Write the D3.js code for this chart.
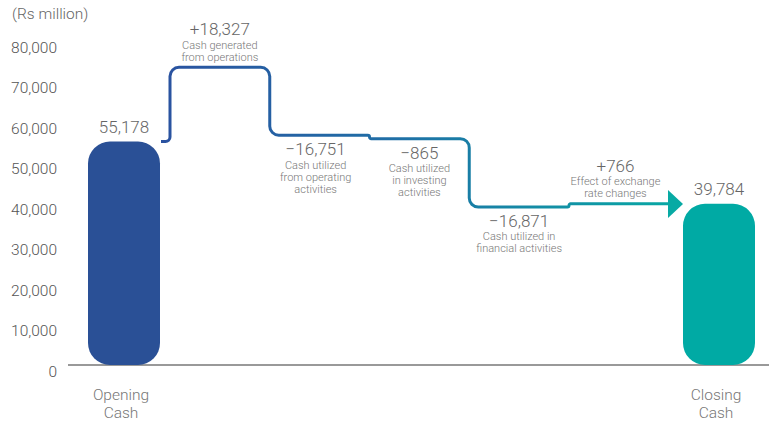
<!DOCTYPE html>
<html>
<head>
<meta charset="utf-8">
<script src="https://cdn.jsdelivr.net/npm/d3@7"></script>
<style>
  html, body { margin: 0; padding: 0; background: #fff; }
  svg { display: block; }
  text { font-family: Roboto, "Liberation Sans", Arial, sans-serif; font-weight: 300; }
</style>
</head>
<body>
<script>
// Cash flow bridge: opening cash, movements, closing cash (Rs million)
const totalLabels = ["Opening Cash", "Closing Cash"];
const totalValues = [55178, 39784];
const flowValues = [18327, -16751, -865, -16871, 766];
const flowLabels = [
  ["Cash generated", "from operations"],
  ["Cash utilized", "from operating", "activities"],
  ["Cash utilized", "in investing", "activities"],
  ["Cash utilized in", "financial activities"],
  ["Effect of exchange", "rate changes"]
];
const yTicks = [0, 10000, 20000, 30000, 40000, 50000, 60000, 70000, 80000];
const unitLabel = "(Rs million)";

const W = 769, H = 422;
const svg = d3.select("body").append("svg").attr("width", W).attr("height", H);

const y = d3.scaleLinear().domain([0, 80000]).range([365, 41]);
const xBar = d3.scalePoint().domain(totalLabels).range([124, 719]);
const barW = 72;
// positions of the steps between movements; last entry is the arrow tip
const xStep = d3.scaleLinear().domain([0, 4]).range([170, 569]);
const arrowTip = xBar("Closing Cash") - barW / 2;

const fmt = d3.format(",");
const signed = v => (v > 0 ? "+" : "\u2212") + fmt(Math.abs(v));

// unit label
svg.append("text").attr("x", 12).attr("y", 14).attr("dominant-baseline", "central")
  .attr("font-size", 15.5).attr("fill", "#666").text(unitLabel);

// y axis (labels only)
const axis = svg.append("g").attr("transform", "translate(57,0)")
  .call(d3.axisLeft(y).tickValues(yTicks).tickSize(0).tickPadding(0).tickFormat(fmt));
axis.select(".domain").remove();
axis.selectAll("text").attr("font-size", 15.5).attr("fill", "#555")
  .attr("font-family", "Roboto, 'Liberation Sans', Arial, sans-serif")
  .attr("font-weight", 300).attr("dy", "0.32em")
  .attr("transform", "translate(0,6.5)");

// baseline
svg.append("line").attr("x1", 68).attr("x2", W).attr("y1", y(0)).attr("y2", y(0))
  .attr("stroke", "#777").attr("stroke-width", 1.5);

// total bars
const barColors = ["#2a5096", "#00aaa4"];
svg.selectAll("path.bar").data(totalValues).join("path").attr("class", "bar")
  .attr("fill", (d, i) => barColors[i])
  .attr("d", (d, i) => {
    const x0 = xBar(totalLabels[i]) - barW / 2, x1 = x0 + barW;
    const y0 = y(d), y1 = y(0), r = 22;
    const p = d3.path();
    p.moveTo(x0 + r, y0);
    p.arcTo(x1, y0, x1, y1, r);
    p.arcTo(x1, y1, x0, y1, r);
    p.arcTo(x0, y1, x0, y0, r);
    p.arcTo(x0, y0, x1, y0, r);
    p.closePath();
    return p.toString();
  });

// total value labels
svg.selectAll("text.total").data(totalValues).join("text").attr("class", "total")
  .attr("x", (d, i) => xBar(totalLabels[i]))
  .attr("y", d => y(d) - 15)
  .attr("text-anchor", "middle").attr("dominant-baseline", "central")
  .attr("font-size", 17).attr("fill", "#666").text(fmt);

// category labels under the bars
totalLabels.forEach((lab, i) => {
  const parts = lab.split(" ");
  parts.forEach((w, j) => {
    svg.append("text").attr("x", xBar(lab) - 3).attr("y", 395 + j * 18)
      .attr("text-anchor", "middle").attr("dominant-baseline", "central")
      .attr("font-size", 15.5).attr("fill", "#777").text(w);
  });
});

// running levels
const levels = [totalValues[0]];
flowValues.forEach(v => levels.push(levels[levels.length - 1] + v));

// flow path vertices
const pts = [[xBar("Opening Cash") + barW / 2 + 1, y(levels[0])]];
flowValues.forEach((v, i) => {
  const xs = xStep(i);
  pts.push([xs, y(levels[i])]);
  pts.push([xs, y(levels[i + 1])]);
});
const headLen = 15, headHalf = 14;
pts.push([arrowTip - headLen, y(levels[levels.length - 1])]);

function roundedPath(points, r) {
  const p = d3.path();
  p.moveTo(points[0][0], points[0][1]);
  for (let i = 1; i < points.length - 1; i++) {
    const [ax, ay] = points[i - 1], [bx, by] = points[i], [cx, cy] = points[i + 1];
    const l1 = Math.hypot(bx - ax, by - ay), l2 = Math.hypot(cx - bx, cy - by);
    const rr = Math.min(r, l1 / 2, l2 / 2);
    if (rr < 0.5) p.lineTo(bx, by); else p.arcTo(bx, by, cx, cy, rr);
  }
  const last = points[points.length - 1];
  p.lineTo(last[0], last[1]);
  return p.toString();
}

const defs = svg.append("defs");
const grad = defs.append("linearGradient").attr("id", "flowGrad")
  .attr("gradientUnits", "userSpaceOnUse")
  .attr("x1", pts[0][0]).attr("x2", arrowTip).attr("y1", 0).attr("y2", 0);
grad.append("stop").attr("offset", 0).attr("stop-color", "#2a52a0");
grad.append("stop").attr("offset", 0.45).attr("stop-color", "#1f6fa6");
grad.append("stop").attr("offset", 1).attr("stop-color", "#07aaa4");

svg.append("path").attr("d", roundedPath(pts, 9))
  .attr("fill", "none").attr("stroke", "url(#flowGrad)").attr("stroke-width", 3);

const yEnd = y(levels[levels.length - 1]);
svg.append("path")
  .attr("d", d3.line()([[arrowTip - headLen, yEnd - headHalf], [arrowTip, yEnd], [arrowTip - headLen, yEnd + headHalf]]) + "Z")
  .attr("fill", "#07aaa4");

// movement annotations
const labelShift = [0, -4, 0, 0, -3];
flowValues.forEach((v, i) => {
  const x0 = xStep(i), x1 = i < 4 ? xStep(i + 1) : arrowTip - headLen;
  const cx = (x0 + x1) / 2 + labelShift[i];
  const lines = flowLabels[i];
  const g = svg.append("g");
  let vy;
  if (v > 0) {
    const top = Math.min(y(levels[i]), y(levels[i + 1]));
    vy = top - 38 - (lines.length - 2) * 12;
  } else {
    vy = y(levels[i + 1]) + 14;
  }
  g.append("text").attr("x", cx).attr("y", vy)
    .attr("text-anchor", "middle").attr("dominant-baseline", "central")
    .attr("font-size", 17).attr("fill", "#666").text(signed(v));
  lines.forEach((t, j) => {
    g.append("text").attr("x", cx).attr("y", vy + 16 + j * 12)
      .attr("text-anchor", "middle").attr("dominant-baseline", "central")
      .attr("font-size", 11).attr("fill", "#777").text(t);
  });
});
</script>
</body>
</html>
